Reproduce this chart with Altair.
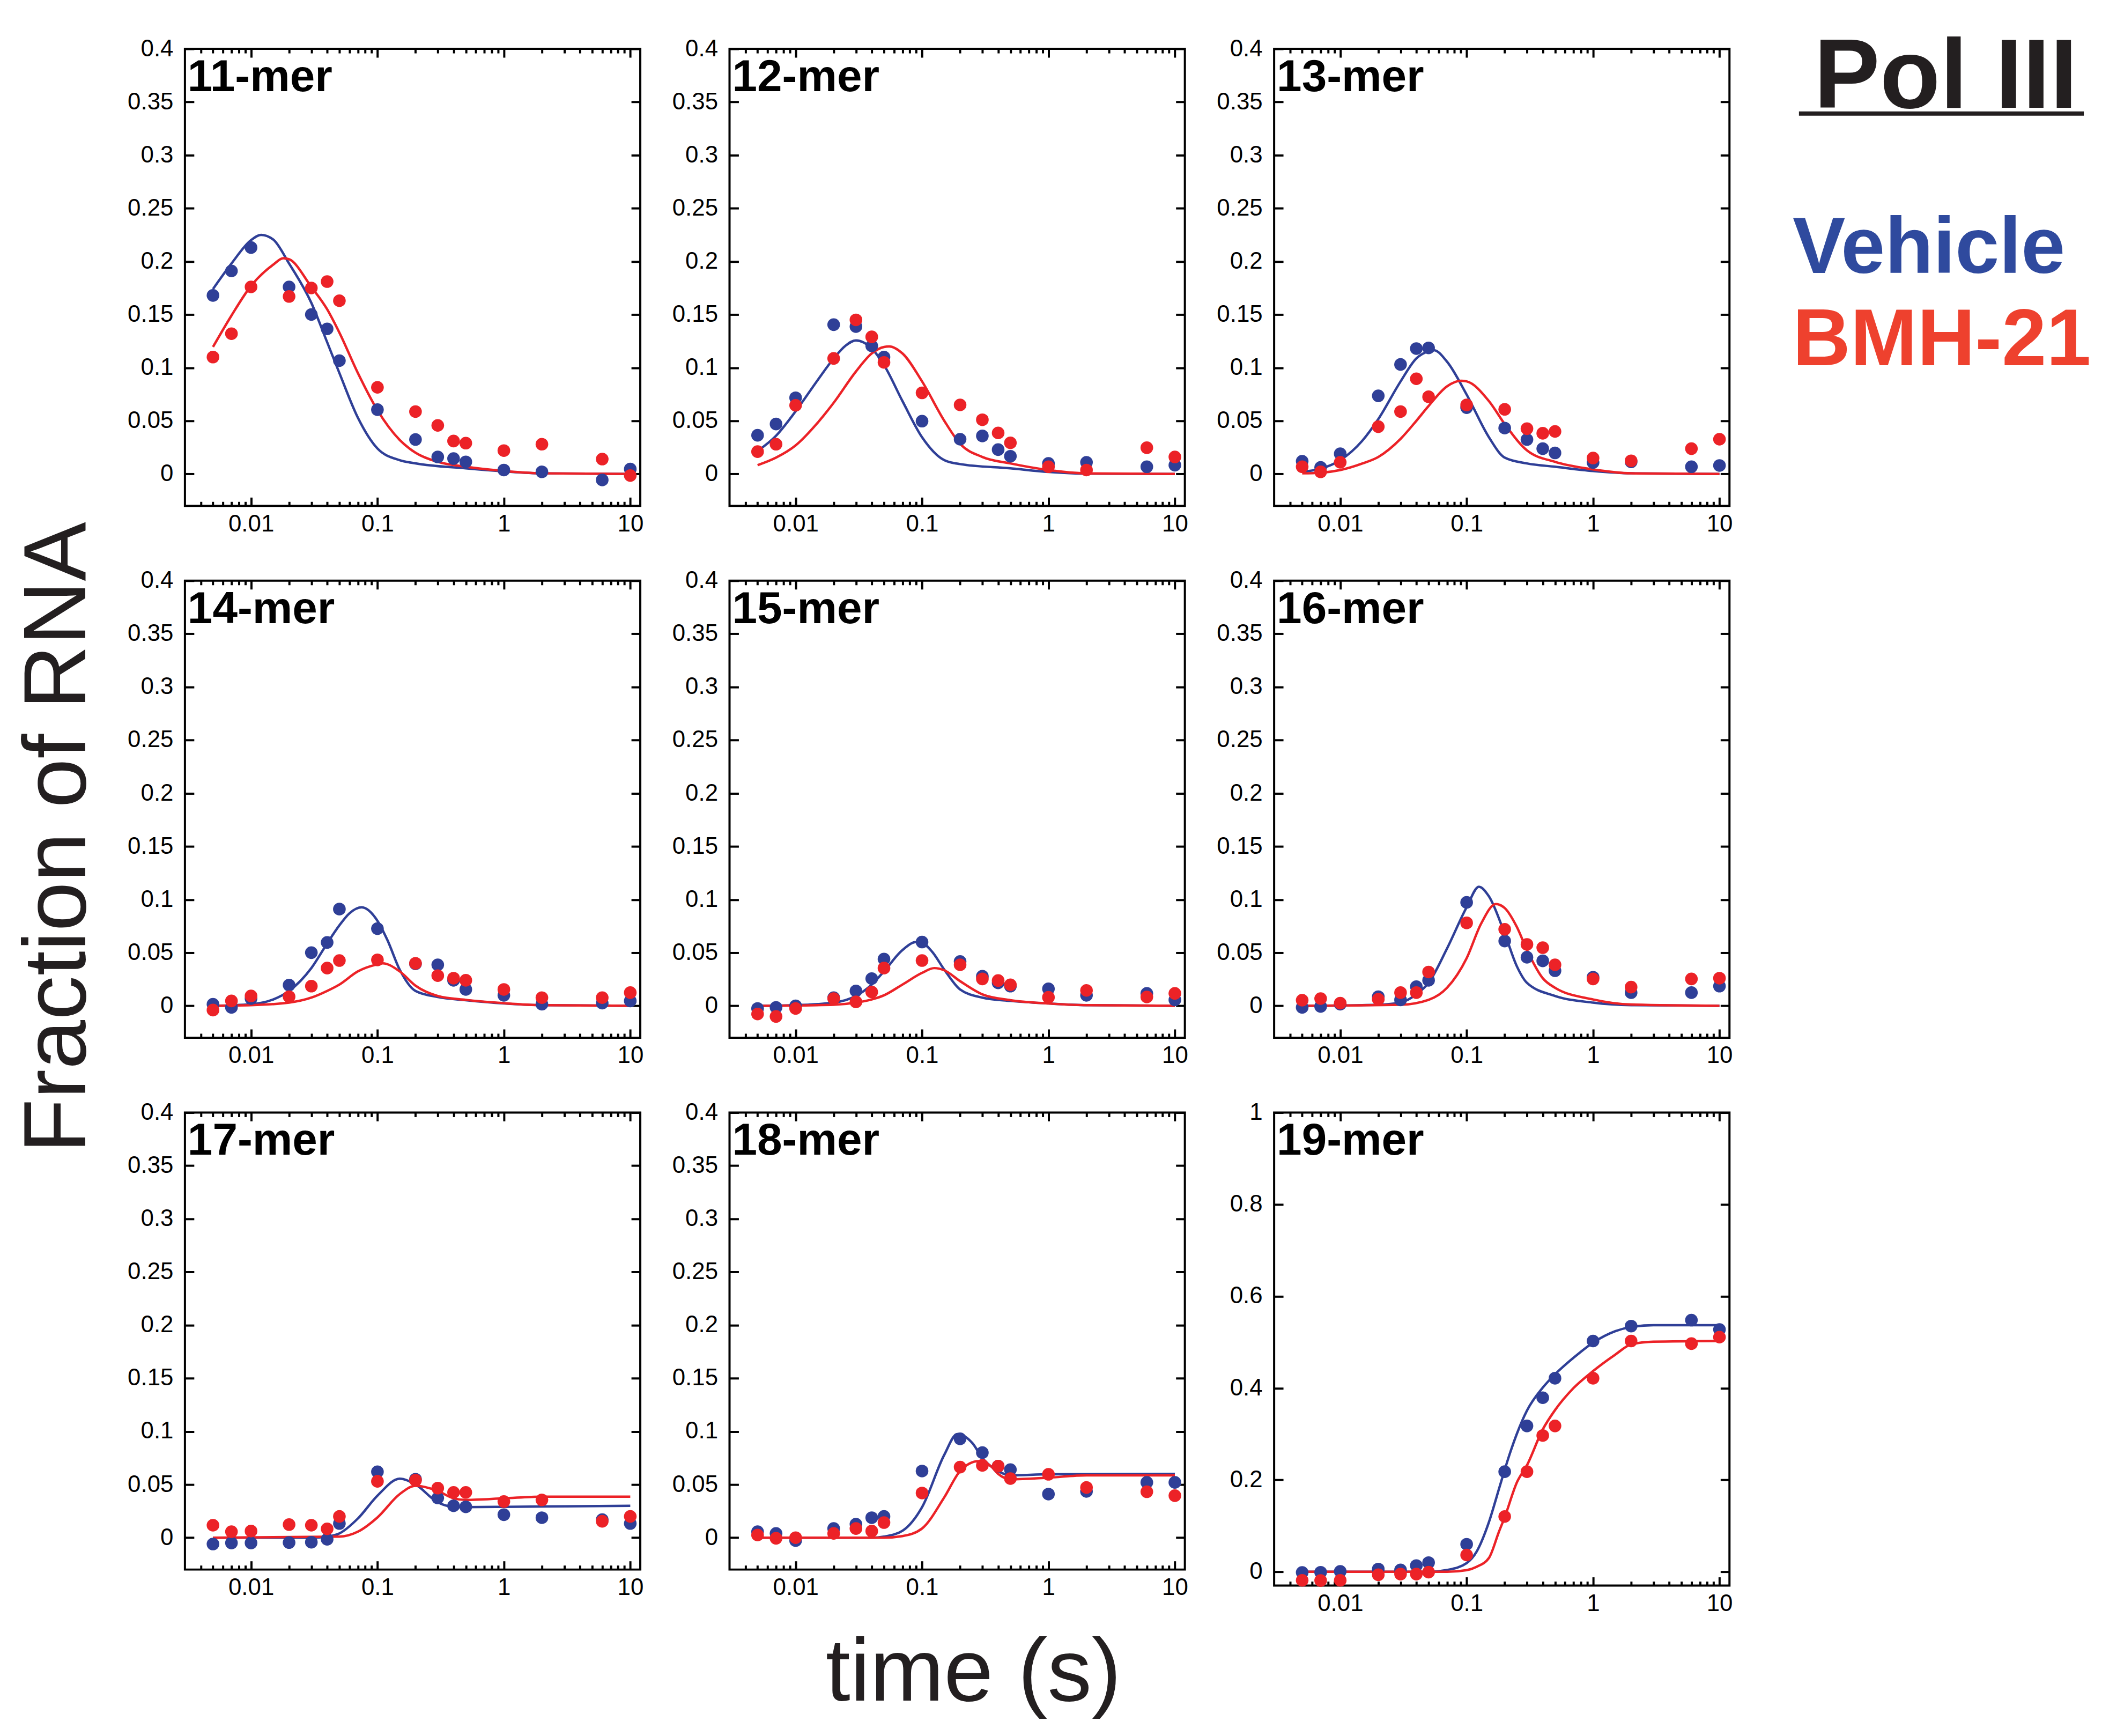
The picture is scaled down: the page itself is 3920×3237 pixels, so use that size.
import altair as alt
import pandas as pd

# sampling times (s), same for every panel
TIMES = [0.005, 0.007, 0.01, 0.02, 0.03, 0.04, 0.05, 0.1, 0.2, 0.3, 0.4, 0.5, 1, 2, 6, 10]

# measured fractions, vehicle (blue) and BMH-21 (red)
VEH_11 = [0.168, 0.191, 0.213, 0.176, 0.150, 0.1365, 0.1066, 0.0605, 0.0324, 0.016, 0.0145, 0.0114, 0.0037, 0.002, -0.0056, 0.0046]
BMH_11 = [0.110, 0.132, 0.176, 0.167, 0.175, 0.181, 0.163, 0.0815, 0.0587, 0.0457, 0.031, 0.029, 0.022, 0.028, 0.014, -0.0015]
VEH_12 = [0.0364, 0.047, 0.0717, 0.1405, 0.1387, 0.1205, 0.110, 0.0497, 0.0327, 0.0358, 0.0229, 0.0167, 0.0099, 0.011, 0.0068, 0.0083]
BMH_12 = [0.021, 0.028, 0.0646, 0.1087, 0.145, 0.129, 0.105, 0.0763, 0.065, 0.051, 0.0386, 0.0293, 0.0068, 0.0037, 0.0247, 0.016]
VEH_13 = [0.012, 0.0062, 0.019, 0.0735, 0.103, 0.118, 0.1186, 0.0624, 0.0432, 0.0324, 0.0238, 0.0198, 0.0108, 0.0114, 0.0068, 0.008]
BMH_13 = [0.0068, 0.002, 0.011, 0.0445, 0.0587, 0.0896, 0.0726, 0.0649, 0.0608, 0.0426, 0.0383, 0.040, 0.015, 0.0124, 0.0238, 0.0327]
VEH_14 = [0.0015, -0.0015, 0.0068, 0.0195, 0.050, 0.0596, 0.091, 0.0726, 0.0395, 0.0386, 0.024, 0.0154, 0.0099, 0.0015, 0.0025, 0.0046]
BMH_14 = [-0.004, 0.0046, 0.0093, 0.0086, 0.0185, 0.0355, 0.0426, 0.0432, 0.040, 0.0284, 0.026, 0.024, 0.0154, 0.0077, 0.0077, 0.0124]
VEH_15 = [-0.0025, -0.0015, 0.0, 0.0077, 0.014, 0.0256, 0.044, 0.060, 0.0417, 0.0278, 0.0216, 0.0185, 0.016, 0.0099, 0.0117, 0.0056]
BMH_15 = [-0.0077, -0.010, -0.0025, 0.0068, 0.0037, 0.013, 0.0355, 0.0426, 0.0386, 0.0253, 0.0238, 0.0198, 0.008, 0.0145, 0.0083, 0.0117]
VEH_16 = [-0.0015, -0.0006, 0.0015, 0.0086, 0.0056, 0.018, 0.024, 0.0973, 0.061, 0.0457, 0.0423, 0.033, 0.0269, 0.0124, 0.0124, 0.0185]
BMH_16 = [0.0053, 0.0068, 0.0025, 0.0062, 0.0124, 0.0124, 0.0318, 0.078, 0.072, 0.0578, 0.0547, 0.0386, 0.0253, 0.0176, 0.0253, 0.026]
VEH_17 = [-0.006, -0.005, -0.005, -0.0046, -0.0043, -0.0015, 0.0133, 0.062, 0.055, 0.0373, 0.030, 0.029, 0.0216, 0.0188, 0.017, 0.0133]
BMH_17 = [0.0117, 0.0056, 0.0062, 0.0123, 0.0117, 0.0083, 0.020, 0.053, 0.054, 0.0466, 0.0426, 0.0426, 0.034, 0.0355, 0.0154, 0.020]
VEH_18 = [0.0056, 0.004, -0.0028, 0.0086, 0.0127, 0.0188, 0.020, 0.0627, 0.093, 0.080, 0.0673, 0.064, 0.041, 0.0435, 0.052, 0.052]
BMH_18 = [0.0025, -0.0006, 0.0, 0.004, 0.0086, 0.0062, 0.0142, 0.042, 0.0664, 0.068, 0.0673, 0.0556, 0.0596, 0.0472, 0.0432, 0.0395]
VEH_19 = [-0.0014, -0.001, 0.001, 0.006, 0.004, 0.0136, 0.020, 0.060, 0.218, 0.3176, 0.379, 0.4215, 0.5025, 0.535, 0.548, 0.5276]
BMH_19 = [-0.0186, -0.019, -0.0186, -0.0065, -0.005, -0.005, -0.0007, 0.0366, 0.1204, 0.218, 0.2968, 0.3176, 0.4215, 0.5025, 0.4968, 0.511]

# fitted curves
FIT_VEH_11_T = [0.005, 0.007, 0.01, 0.012, 0.015, 0.02, 0.03, 0.04, 0.05, 0.07, 0.1, 0.15, 0.2, 0.5, 1, 2, 10]
FIT_VEH_11 = [0.174, 0.198, 0.220, 0.225, 0.2205, 0.198, 0.161, 0.124, 0.095, 0.053, 0.024, 0.013, 0.010, 0.0053, 0.0025, 0.0006, 0]
FIT_BMH_11_T = [0.005, 0.007, 0.01, 0.015, 0.018, 0.02, 0.03, 0.04, 0.05, 0.07, 0.1, 0.15, 0.2, 0.3, 0.5, 1, 2, 10]
FIT_BMH_11 = [0.1195, 0.149, 0.177, 0.197, 0.203, 0.202, 0.176, 0.155, 0.133, 0.095, 0.060, 0.032, 0.020, 0.0114, 0.0068, 0.0028, 0.0006, 0]

FIT_VEH_12_T = [0.005, 0.007, 0.01, 0.015, 0.02, 0.025, 0.03, 0.04, 0.05, 0.07, 0.1, 0.15, 0.2, 0.5, 1, 2, 10]
FIT_VEH_12 = [0.0216, 0.036, 0.059, 0.0886, 0.1087, 0.121, 0.1257, 0.118, 0.1025, 0.0686, 0.0346, 0.013, 0.0093, 0.0053, 0.0019, 0.0003, 0]
FIT_BMH_12_T = [0.005, 0.007, 0.01, 0.015, 0.02, 0.03, 0.04, 0.05, 0.055, 0.07, 0.1, 0.15, 0.2, 0.3, 0.5, 1, 2, 10]
FIT_BMH_12 = [0.0083, 0.0154, 0.0269, 0.0485, 0.067, 0.0964, 0.1134, 0.1195, 0.120, 0.1134, 0.0871, 0.050, 0.0284, 0.016, 0.0099, 0.0037, 0.0006, 0]

FIT_VEH_13_T = [0.005, 0.007, 0.01, 0.015, 0.02, 0.03, 0.04, 0.05, 0.055, 0.07, 0.1, 0.15, 0.2, 0.3, 0.5, 1, 2, 10]
FIT_VEH_13 = [0.002, 0.005, 0.013, 0.0315, 0.0516, 0.087, 0.1087, 0.1155, 0.1165, 0.1056, 0.0747, 0.0346, 0.0154, 0.0099, 0.0068, 0.0028, 0.0006, 0]
FIT_BMH_13_T = [0.005, 0.007, 0.01, 0.015, 0.02, 0.03, 0.04, 0.05, 0.07, 0.09, 0.1, 0.15, 0.2, 0.3, 0.5, 1, 2, 10]
FIT_BMH_13 = [0.0006, 0.0012, 0.0037, 0.0099, 0.016, 0.033, 0.050, 0.064, 0.0825, 0.0877, 0.0871, 0.0686, 0.047, 0.0222, 0.0114, 0.0043, 0.0006, 0]

FIT_VEH_14_T = [0.005, 0.01, 0.015, 0.02, 0.03, 0.04, 0.05, 0.06, 0.075, 0.1, 0.12, 0.15, 0.2, 0.3, 0.5, 1, 2, 10]
FIT_VEH_14 = [0, 0.0015, 0.006, 0.014, 0.0355, 0.0587, 0.0757, 0.087, 0.0927, 0.080, 0.0618, 0.034, 0.014, 0.0083, 0.0053, 0.0022, 0.0006, 0]
FIT_BMH_14_T = [0.005, 0.01, 0.02, 0.03, 0.04, 0.05, 0.07, 0.1, 0.11, 0.15, 0.2, 0.3, 0.5, 1, 2, 10]
FIT_BMH_14 = [0, 0.0006, 0.003, 0.0077, 0.014, 0.020, 0.0324, 0.039, 0.040, 0.0324, 0.019, 0.0093, 0.0056, 0.0025, 0.0006, 0]

FIT_VEH_15_T = [0.005, 0.01, 0.02, 0.03, 0.04, 0.05, 0.07, 0.09, 0.1, 0.12, 0.15, 0.2, 0.3, 0.5, 1, 2, 10]
FIT_VEH_15 = [0, 0.0006, 0.003, 0.0093, 0.020, 0.0324, 0.0525, 0.060, 0.0593, 0.051, 0.034, 0.0154, 0.0077, 0.0046, 0.0022, 0.0006, 0]
FIT_BMH_15_T = [0.005, 0.02, 0.03, 0.04, 0.05, 0.07, 0.1, 0.125, 0.15, 0.2, 0.3, 0.5, 1, 2, 10]
FIT_BMH_15 = [0, 0.001, 0.003, 0.006, 0.0099, 0.020, 0.031, 0.0355, 0.0334, 0.0232, 0.0108, 0.0053, 0.0022, 0.0006, 0]

FIT_VEH_16_T = [0.005, 0.02, 0.03, 0.04, 0.05, 0.07, 0.1, 0.125, 0.15, 0.2, 0.25, 0.3, 0.5, 1, 2, 10]
FIT_VEH_16 = [0, 0.001, 0.003, 0.0108, 0.0216, 0.054, 0.0927, 0.112, 0.103, 0.068, 0.037, 0.0216, 0.0093, 0.003, 0.0006, 0]
FIT_BMH_16_T = [0.005, 0.03, 0.05, 0.07, 0.1, 0.13, 0.17, 0.2, 0.25, 0.3, 0.4, 0.5, 1, 2, 10]
FIT_BMH_16 = [0, 0.001, 0.0056, 0.017, 0.0448, 0.0772, 0.0957, 0.092, 0.074, 0.0525, 0.026, 0.017, 0.006, 0.0012, 0]

FIT_VEH_17_T = [0.005, 0.03, 0.04, 0.05, 0.07, 0.1, 0.15, 0.2, 0.3, 0.4, 0.5, 1, 10]
FIT_VEH_17 = [0, 0, 0.001, 0.004, 0.018, 0.0395, 0.0555, 0.050, 0.0333, 0.029, 0.0287, 0.029, 0.030]
FIT_BMH_17_T = [0.005, 0.05, 0.07, 0.1, 0.15, 0.2, 0.3, 0.4, 0.5, 1, 2, 10]
FIT_BMH_17 = [0, 0.001, 0.0056, 0.019, 0.041, 0.0488, 0.044, 0.037, 0.0355, 0.037, 0.0386, 0.0386]

FIT_VEH_18_T = [0.005, 0.04, 0.05, 0.07, 0.1, 0.15, 0.19, 0.25, 0.3, 0.4, 0.5, 1, 10]
FIT_VEH_18 = [0, 0, 0.001, 0.0065, 0.0287, 0.078, 0.0975, 0.089, 0.075, 0.0627, 0.0586, 0.0596, 0.060]
FIT_BMH_18_T = [0.005, 0.05, 0.07, 0.1, 0.15, 0.2, 0.28, 0.35, 0.4, 0.5, 1, 2, 10]
FIT_BMH_18 = [0, 0, 0.0015, 0.0086, 0.038, 0.0627, 0.072, 0.0673, 0.060, 0.055, 0.0565, 0.0586, 0.0586]

FIT_VEH_19_T = [0.005, 0.05, 0.07, 0.1, 0.12, 0.15, 0.18, 0.2, 0.22, 0.25, 0.3, 0.4, 0.5, 0.7, 1, 1.5, 2, 3, 10]
FIT_VEH_19 = [0, 0, 0.004, 0.019, 0.044, 0.108, 0.18, 0.222, 0.258, 0.301, 0.351, 0.401, 0.43, 0.466, 0.499, 0.524, 0.533, 0.537, 0.537]
FIT_BMH_19_T = [0.005, 0.07, 0.1, 0.12, 0.15, 0.18, 0.2, 0.25, 0.3, 0.4, 0.5, 0.7, 1, 1.5, 2, 3, 10]
FIT_BMH_19 = [0, 0, 0.0036, 0.011, 0.03, 0.087, 0.119, 0.195, 0.232, 0.31, 0.352, 0.40, 0.437, 0.473, 0.495, 0.501, 0.5025]

# axis ticks
X_MAJOR = [0.01, 0.1, 1, 10]
X_MINOR = [0.004, 0.005, 0.006, 0.007, 0.008, 0.009,
           0.02, 0.03, 0.04, 0.05, 0.06, 0.07, 0.08, 0.09,
           0.2, 0.3, 0.4, 0.5, 0.6, 0.7, 0.8, 0.9,
           2, 3, 4, 5, 6, 7, 8, 9]
Y_SMALL = [0, 0.05, 0.1, 0.15, 0.2, 0.25, 0.3, 0.35, 0.4]
Y_BIG = [0, 0.2, 0.4, 0.6, 0.8, 1]

BLUE = "#2f3f97"
RED = "#ec2227"
FONT = "Liberation Sans"
INK = "#231f20"

W, H = 852, 855
LABEL_SIZE = 44


def panel(name, veh, bmh, fv_t, fv, fb_t, fb, yticks, ymax, w=W, h=H,
          ytitle=None, xtitle=None, legend=False):
    pts = pd.DataFrame({
        "t": TIMES + TIMES,
        "v": veh + bmh,
        "s": ["Vehicle"] * len(TIMES) + ["BMH-21"] * len(TIMES),
    })
    fit = pd.DataFrame({
        "t": fv_t + fb_t,
        "v": fv + fb,
        "s": ["Vehicle"] * len(fv_t) + ["BMH-21"] * len(fb_t),
    })
    xs = alt.Scale(type="log", domain=[0.003, 12])
    ys = alt.Scale(domain=[-0.03, ymax], nice=False, zero=False)
    color = alt.Color("s:N", scale=alt.Scale(domain=["Vehicle", "BMH-21"], range=[BLUE, RED]), legend=None)

    common = dict(domain=False, grid=False, tickColor="black", tickWidth=4)
    lab = dict(labelFontSize=LABEL_SIZE, labelFont=FONT, labelColor="black",
               labelOverlap=False, labelFlush=False)

    if xtitle:
        bottom = alt.Axis(orient="bottom", values=X_MAJOR, format="~g", tickSize=16, offset=-16,
                          labelPadding=12, title=xtitle, titleFont=FONT,
                          titleFontSize=166, titleFontWeight="normal", titleColor=INK,
                          titleX=456, titleY=261, titleAlign="center", titleBaseline="alphabetic",
                          **lab, **common)
    else:
        bottom = alt.Axis(orient="bottom", values=X_MAJOR, format="~g", tickSize=16, offset=-16,
                          labelPadding=12, title=None, **lab, **common)
    if ytitle:
        left = alt.Axis(orient="left", values=yticks, format="~g", tickSize=17, offset=-17,
                        labelPadding=22, title=ytitle, titleFont=FONT,
                        titleFontSize=166, titleFontWeight="normal", titleColor=INK,
                        titleAngle=270, titleX=-254, titleY=480, titleAlign="center",
                        titleBaseline="middle", **lab, **common)
    else:
        left = alt.Axis(orient="left", values=yticks, format="~g", tickSize=17, offset=-17,
                        labelPadding=22, title=None, **lab, **common)
    top = alt.Axis(orient="top", values=X_MAJOR, labels=False, tickSize=16, offset=-16, title=None, **common)
    right = alt.Axis(orient="right", values=yticks, labels=False, tickSize=17, offset=-17, title=None, **common)
    bottom_minor = alt.Axis(orient="bottom", values=X_MINOR, labels=False, tickSize=8, offset=-8, title=None, **common)
    top_minor = alt.Axis(orient="top", values=X_MINOR, labels=False, tickSize=8, offset=-8, title=None, **common)

    lines = alt.Chart(fit).mark_line(strokeWidth=4.5, interpolate="monotone", clip=True).encode(
        x=alt.X("t:Q", scale=xs, axis=top),
        y=alt.Y("v:Q", scale=ys, axis=right),
        color=color,
    )
    dots = alt.Chart(pts).mark_circle(size=560, opacity=1).encode(
        x=alt.X("t:Q", scale=xs, axis=bottom),
        y=alt.Y("v:Q", scale=ys, axis=left),
        color=color,
    )
    ghost_b = alt.Chart(pts).mark_point(opacity=0).encode(
        x=alt.X("t:Q", scale=xs, axis=bottom_minor),
        y=alt.Y("v:Q", scale=ys, axis=None),
    )
    ghost_t = alt.Chart(pts).mark_point(opacity=0).encode(
        x=alt.X("t:Q", scale=xs, axis=top_minor),
        y=alt.Y("v:Q", scale=ys, axis=None),
    )
    label = alt.Chart(pd.DataFrame({"name": [name]})).mark_text(
        align="left", baseline="alphabetic", font=FONT, fontSize=84, fontWeight="bold", color="black"
    ).encode(x=alt.value(5), y=alt.value(79), text="name:N")

    layers = [ghost_b, ghost_t, lines, dots, label]

    if legend:
        heads = alt.Chart(pd.DataFrame({"txt": ["Pol III"]})).mark_text(
            align="left", baseline="alphabetic", font=FONT, fontSize=185, fontWeight="bold", color=INK
        ).encode(x=alt.value(1010), y=alt.value(110), text="txt:N")
        underline = alt.Chart(pd.DataFrame({"a": [0]})).mark_rule(strokeWidth=8, color=INK).encode(
            x=alt.value(982), x2=alt.value(1515), y=alt.value(121)
        )
        veh_txt = alt.Chart(pd.DataFrame({"txt": ["Vehicle"]})).mark_text(
            align="left", baseline="alphabetic", font=FONT, fontSize=148, fontWeight="bold", color="#2f4a9e"
        ).encode(x=alt.value(970), y=alt.value(419), text="txt:N")
        bmh_txt = alt.Chart(pd.DataFrame({"txt": ["BMH-21"]})).mark_text(
            align="left", baseline="alphabetic", font=FONT, fontSize=150, fontWeight="bold", color="#ee412e"
        ).encode(x=alt.value(970), y=alt.value(592), text="txt:N")
        layers += [heads, underline, veh_txt, bmh_txt]

    return alt.layer(*layers).resolve_axis(x="independent", y="independent").properties(width=w, height=h)


p11 = panel("11-mer", VEH_11, BMH_11, FIT_VEH_11_T, FIT_VEH_11, FIT_BMH_11_T, FIT_BMH_11, Y_SMALL, 0.4)
p12 = panel("12-mer", VEH_12, BMH_12, FIT_VEH_12_T, FIT_VEH_12, FIT_BMH_12_T, FIT_BMH_12, Y_SMALL, 0.4)
p13 = panel("13-mer", VEH_13, BMH_13, FIT_VEH_13_T, FIT_VEH_13, FIT_BMH_13_T, FIT_BMH_13, Y_SMALL, 0.4, legend=True)
p14 = panel("14-mer", VEH_14, BMH_14, FIT_VEH_14_T, FIT_VEH_14, FIT_BMH_14_T, FIT_BMH_14, Y_SMALL, 0.4,
            ytitle="Fraction of RNA")
p15 = panel("15-mer", VEH_15, BMH_15, FIT_VEH_15_T, FIT_VEH_15, FIT_BMH_15_T, FIT_BMH_15, Y_SMALL, 0.4)
p16 = panel("16-mer", VEH_16, BMH_16, FIT_VEH_16_T, FIT_VEH_16, FIT_BMH_16_T, FIT_BMH_16, Y_SMALL, 0.4)
p17 = panel("17-mer", VEH_17, BMH_17, FIT_VEH_17_T, FIT_VEH_17, FIT_BMH_17_T, FIT_BMH_17, Y_SMALL, 0.4)
p18 = panel("18-mer", VEH_18, BMH_18, FIT_VEH_18_T, FIT_VEH_18, FIT_BMH_18_T, FIT_BMH_18, Y_SMALL, 0.4,
            xtitle="time (s)")
p19 = panel("19-mer", VEH_19, BMH_19, FIT_VEH_19_T, FIT_VEH_19, FIT_BMH_19_T, FIT_BMH_19, Y_BIG, 1.0,
            h=885)

chart = alt.concat(
    p11, p12, p13, p14, p15, p16, p17, p18, p19,
    columns=3, spacing={"row": 140, "column": 167}, bounds="flush",
).properties(
    padding={"left": 15, "top": 38, "right": 10, "bottom": 10}
).configure(
    font=FONT
).configure_view(
    stroke="black", strokeWidth=4
)

chart.save("out.html", embed_options={"renderer": "svg", "actions": False})
